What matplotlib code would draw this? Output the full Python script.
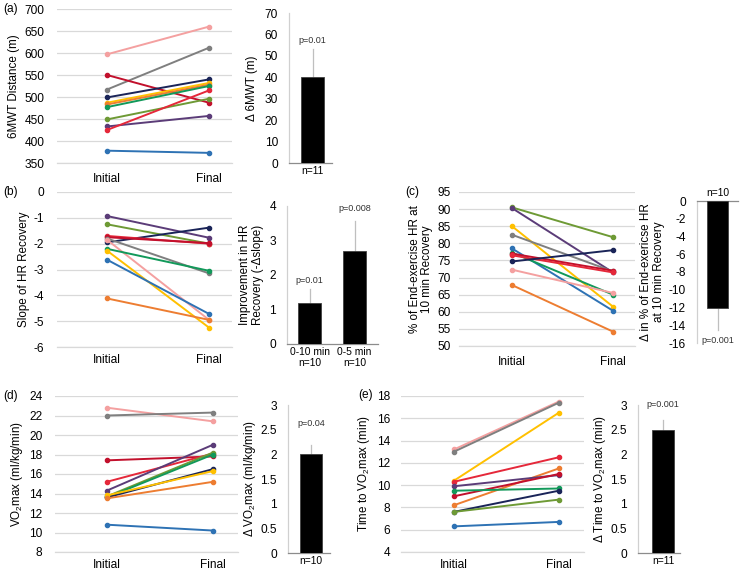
import matplotlib
matplotlib.use("Agg")
import matplotlib.pyplot as plt
from matplotlib.ticker import FuncFormatter

plt.rcParams['font.family'] = ['Liberation Sans', 'DejaVu Sans']
plt.rcParams['mathtext.fontset'] = 'custom'
plt.rcParams['mathtext.rm'] = 'Liberation Sans'
plt.rcParams['mathtext.it'] = 'Liberation Sans:italic'
plt.rcParams['axes.unicode_minus'] = False

W, H = 743, 574

# ---------------- data ----------------
categories = ["Initial", "Final"]

initial_a = [597, 517, 550, 499, 487, 483, 477, 449, 433, 425, 378]
final_a = [660, 612, 487, 540, 532, 528, 525, 496, 457, 515, 373]
colors_a = ["pink", "gray", "crimson", "navy", "yellow", "orange", "green", "olive", "purple", "red", "blue"]

initial_b = [-0.93, -1.25, -1.95, -1.70, -1.75, -1.80, -1.85, -2.20, -2.27, -2.62, -4.12]
final_b = [-1.77, -2.00, -1.38, -2.00, -1.98, -3.15, -4.95, -3.05, -5.25, -4.72, -4.95]
colors_b = ["purple", "olive", "navy", "red", "crimson", "gray", "pink", "green", "yellow", "blue", "orange"]

initial_c = [90.5, 90.3, 85.0, 82.5, 78.5, 77.3, 77.0, 76.5, 74.7, 72.3, 67.8]
final_c = [81.8, 71.5, 61.5, 71.8, 60.3, 65.0, 72.0, 71.5, 78.0, 65.5, 54.2]
colors_c = ["olive", "purple", "yellow", "gray", "blue", "green", "crimson", "red", "navy", "pink", "orange"]

initial_d = [22.8, 22.0, 17.4, 15.2, 14.3, 13.7, 13.6, 13.6, 13.8, 13.5, 10.8]
final_d = [21.4, 22.3, 17.8, 18.1, 19.0, 18.2, 18.0, 16.5, 16.3, 15.2, 10.2]
colors_d = ["pink", "gray", "crimson", "red", "purple", "olive", "green", "navy", "yellow", "orange", "blue"]

initial_e = [13.2, 13.0, 10.4, 10.3, 8.2, 9.9, 9.0, 9.5, 7.6, 7.6, 6.3]
final_e = [17.5, 17.4, 16.5, 12.5, 11.5, 10.9, 11.0, 9.7, 9.5, 8.7, 6.7]
colors_e = ["pink", "gray", "yellow", "red", "orange", "purple", "crimson", "green", "navy", "olive", "blue"]

bar_a_labels = ["n=11"]
bar_a_values = [40]
bar_a_err = [13]
bar_a_p = ["p=0.01"]

bar_b_labels = ["0-10 min\nn=10", "0-5 min\nn=10"]
bar_b_values = [1.2, 2.7]
bar_b_err = [0.38, 0.86]
bar_b_p = ["p=0.01", "p=0.008"]

bar_c_labels = ["n=10"]
bar_c_values = [-12]
bar_c_err = [2.5]
bar_c_p = ["p=0.001"]

bar_d_labels = ["n=10"]
bar_d_values = [2.0]
bar_d_err = [0.19]
bar_d_p = ["p=0.04"]

bar_e_labels = ["n=11"]
bar_e_values = [2.5]
bar_e_err = [0.2]
bar_e_p = ["p=0.001"]

palette = {
    "blue": "#2E72B4",
    "orange": "#ED7D31",
    "gray": "#7F7F7F",
    "yellow": "#FFC000",
    "navy": "#1A2458",
    "green": "#12995A",
    "olive": "#6E9A35",
    "purple": "#5B3C78",
    "red": "#E5283A",
    "crimson": "#C2102C",
    "pink": "#F4A0A0",
}

GRID = "#D9D9D9"
TICK_FS = 8.6
LAB_FS = 8.4


def fmt_num(v, pos=None):
    return ("%g" % v)


def add_axes_px(x0, y0, x1, y1):
    return fig.add_axes([x0 / W, 1 - y1 / H, (x1 - x0) / W, (y1 - y0) / H])


def line_panel(rect, init, fin, cols, ylim, yticks, ylabel, xlim, ypad=8, xpad=6):
    ax = add_axes_px(*rect)
    for a, b, c in zip(init, fin, cols):
        ax.plot([0, 1], [a, b], color=palette[c], lw=1.4, marker='o', ms=3.0,
                solid_capstyle='round', zorder=3)
    ax.set_ylim(*ylim)
    ax.set_yticks(yticks)
    ax.yaxis.set_major_formatter(FuncFormatter(fmt_num))
    ax.set_xlim(*xlim)
    ax.set_xticks([0, 1])
    ax.set_xticklabels(categories, fontsize=TICK_FS)
    ax.tick_params(axis='both', length=0, labelsize=TICK_FS)
    ax.tick_params(axis='y', pad=ypad)
    ax.tick_params(axis='x', pad=xpad)
    ax.grid(axis='y', color=GRID, lw=0.9)
    ax.set_axisbelow(True)
    for s in ['left', 'right', 'top']:
        ax.spines[s].set_visible(False)
    ax.spines['bottom'].set_color(GRID)
    ax.spines['bottom'].set_linewidth(0.9)
    ax.set_ylabel(ylabel, fontsize=LAB_FS, labelpad=3, linespacing=1.05)
    return ax


def bar_panel(rect, labels, values, errs, ylim, yticks, ylabel, xlim, ppos,
              ptexts, neg=False, labelpad=4):
    ax = add_axes_px(*rect)
    x = list(range(len(values)))
    ax.bar(x, values, width=0.52, color='black', edgecolor='#404040', lw=0.6, zorder=3)
    for xi, v, e in zip(x, values, errs):
        end = v - e if neg else v + e
        ax.plot([xi, xi], [v, end], color='#BFBFBF', lw=0.9, zorder=2)
    for xi, py, t in zip(x, ppos, ptexts):
        ax.text(xi, py, t, ha='center', va='center', fontsize=6.5, color='#333333')
    ax.set_ylim(*ylim)
    ax.set_yticks(yticks)
    ax.yaxis.set_major_formatter(FuncFormatter(fmt_num))
    ax.set_xlim(*xlim)
    ax.set_xticks(x)
    ax.set_xticklabels(labels, fontsize=7.4, linespacing=1.1)
    ax.tick_params(axis='both', length=0)
    ax.tick_params(axis='y', pad=8, labelsize=TICK_FS)
    ax.tick_params(axis='x', pad=2)
    ax.spines['right'].set_visible(False)
    ax.spines['left'].set_color('#D0D0D0')
    ax.spines['left'].set_linewidth(0.9)
    if neg:
        ax.spines['bottom'].set_visible(False)
        ax.spines['top'].set_color('#8C8C8C')
        ax.spines['top'].set_linewidth(0.9)
        ax.xaxis.tick_top()
        ax.tick_params(axis='x', length=0, pad=2)
    else:
        ax.spines['top'].set_visible(False)
        ax.spines['bottom'].set_color('#8C8C8C')
        ax.spines['bottom'].set_linewidth(0.9)
    ax.set_ylabel(ylabel, fontsize=LAB_FS, labelpad=labelpad, linespacing=1.05)
    ax.patch.set_alpha(0)
    return ax


fig = plt.figure(figsize=(W / 100, H / 100), dpi=100)

# (a)
line_panel((57, 9, 232, 163), initial_a, final_a, colors_a, (350, 700),
           range(350, 701, 50), "6MWT Distance (m)", (-0.49, 1.225), ypad=9, xpad=7)
bar_panel((289, 13, 332, 163), bar_a_labels, bar_a_values, bar_a_err, (0, 70),
          range(0, 71, 10), "\u0394 6MWT (m)", (-0.55, 0.45), [57], bar_a_p, labelpad=5)

# (b)
line_panel((57, 192, 232, 347), initial_b, final_b, colors_b, (-6, 0),
           range(-6, 1, 1), "Slope of HR Recovery", (-0.49, 1.225), ypad=9, xpad=5)
bar_panel((287, 206, 378, 344), bar_b_labels, bar_b_values, bar_b_err, (0, 4),
          range(0, 5, 1), "Improvement in HR\nRecovery (-\u0394slope)", (-0.5, 1.52),
          [1.85, 3.93], bar_b_p, labelpad=4)

# (c)
line_panel((459, 192, 635, 346), initial_c, final_c, colors_c, (50, 95),
           range(50, 96, 5), "% of End-exercise HR at\n10 min Recovery", (-0.525, 1.218),
           ypad=6, xpad=7)
bar_panel((697, 201, 738, 343), bar_c_labels, bar_c_values, bar_c_err, (-16, 0),
          range(-16, 1, 2), "\u0394 in % of End-exericse HR\nat 10 min Recovery",
          (-0.5, 0.5), [-15.7], bar_c_p, neg=True, labelpad=3)

# (d)
line_panel((55, 396, 238, 552), initial_d, final_d, colors_d, (8, 24),
           range(8, 25, 2), "VO$_2$max (ml/kg/min)", (-0.49, 1.236), ypad=9, xpad=5)
bar_panel((288, 405, 330, 553), bar_d_labels, bar_d_values, bar_d_err, (0, 3),
          [0, 0.5, 1, 1.5, 2, 2.5, 3], "\u0394 VO$_2$max (ml/kg/min)", (-0.55, 0.45),
          [2.62], bar_d_p, labelpad=2)

# (e)
line_panel((401, 396, 584, 552), initial_e, final_e, colors_e, (4, 18),
           range(4, 19, 2), "Time to VO$_2$max (min)", (-0.505, 1.24), ypad=8, xpad=5)
bar_panel((638, 405, 680, 553), bar_e_labels, bar_e_values, bar_e_err, (0, 3),
          [0, 0.5, 1, 1.5, 2, 2.5, 3], "\u0394 Time to VO$_2$max (min)", (-0.6, 0.4),
          [3.02], bar_e_p, labelpad=2)

for lbl, px, py in [("(a)", 3, 9), ("(b)", 3, 192), ("(c)", 405, 192),
                    ("(d)", 3, 396), ("(e)", 358, 395)]:
    fig.text(px / W, 1 - py / H, lbl, fontsize=8.6, ha='left', va='center')

fig.savefig("out.png", dpi=100)
